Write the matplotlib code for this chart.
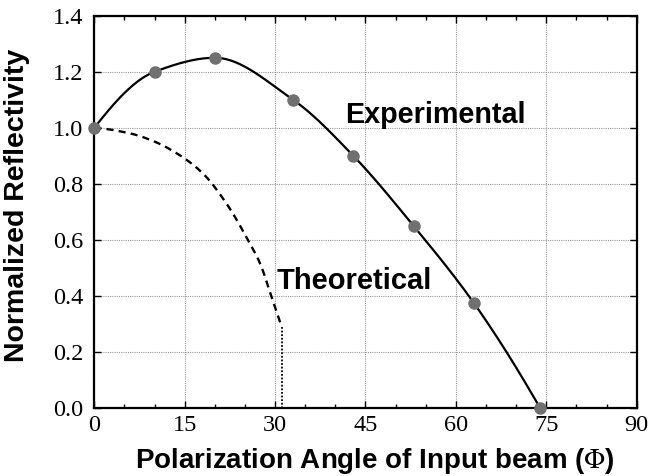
import numpy as np
import matplotlib
matplotlib.use("Agg")
import matplotlib.pyplot as plt

plt.rcParams["mathtext.fontset"] = "stix"

# Data
exp_angle = [0, 10, 20, 33, 43, 53, 63, 74]
exp_refl = [1.0, 1.2, 1.25, 1.1, 0.9, 0.65, 0.375, 0.0]

theo_angle = [0, 6, 10, 14, 18, 22, 25.5, 27.5, 29.4, 31.1]
theo_refl = [1.0, 0.98, 0.951, 0.905, 0.838, 0.728, 0.60, 0.517, 0.398, 0.29]
cutoff_angle = 31.1

x_ticks = [0, 15, 30, 45, 60, 75, 90]
y_ticks = [0.0, 0.2, 0.4, 0.6, 0.8, 1.0, 1.2, 1.4]


def pchip(x, y, n=400):
    x = np.asarray(x, float); y = np.asarray(y, float)
    h = np.diff(x); delta = np.diff(y) / h
    k = len(x); d = np.zeros(k)
    for i in range(1, k - 1):
        if delta[i - 1] * delta[i] > 0:
            w1 = 2 * h[i] + h[i - 1]; w2 = h[i] + 2 * h[i - 1]
            d[i] = (w1 + w2) / (w1 / delta[i - 1] + w2 / delta[i])
    def end(h0, h1, d0, d1):
        dd = ((2 * h0 + h1) * d0 - h0 * d1) / (h0 + h1)
        if np.sign(dd) != np.sign(d0):
            dd = 0
        elif np.sign(d0) != np.sign(d1) and abs(dd) > abs(3 * d0):
            dd = 3 * d0
        return dd
    d[0] = end(h[0], h[1], delta[0], delta[1])
    d[-1] = end(h[-1], h[-2], delta[-1], delta[-2])
    xs = np.linspace(x[0], x[-1], n)
    idx = np.clip(np.searchsorted(x, xs) - 1, 0, k - 2)
    t = (xs - x[idx]) / h[idx]
    h00 = 2 * t**3 - 3 * t**2 + 1; h10 = t**3 - 2 * t**2 + t
    h01 = -2 * t**3 + 3 * t**2; h11 = t**3 - t**2
    ys = h00 * y[idx] + h10 * h[idx] * d[idx] + h01 * y[idx + 1] + h11 * h[idx] * d[idx + 1]
    return xs, ys


fig = plt.figure(figsize=(6.49, 4.76), dpi=100)
ax = fig.add_axes([0.1453, 0.1422, 0.8357, 0.8248])

xs, ys = pchip(exp_angle, exp_refl)
ax.plot(xs, ys, color="black", lw=1.6, zorder=3)
ax.plot(exp_angle, exp_refl, "o", color="#707070", ms=8, zorder=4, clip_on=False)

tx, ty = pchip(theo_angle, theo_refl)
ax.plot(tx, ty, color="black", lw=1.7, ls=(0, (3, 2.2)), zorder=3)
ax.plot([cutoff_angle, cutoff_angle], [theo_refl[-1], 0], color="black", lw=1.3,
        ls=(0, (1, 1)), zorder=3)

ax.text(41.6, 1.016, "Experimental", fontsize=20.7, fontweight="bold",
        family="Liberation Sans", va="baseline", ha="left")
ax.text(30.2, 0.427, "Theoretical", fontsize=21, fontweight="bold",
        family="Liberation Sans", va="baseline", ha="left")

ax.set_xlim(0, 90)
ax.set_ylim(0, 1.4)
ax.set_xticks(x_ticks)
ax.set_yticks(y_ticks)
ax.set_xticklabels([str(v) for v in x_ticks], family="Liberation Serif", fontsize=17.5)
ax.set_yticklabels([f"{v:.1f}" for v in y_ticks], family="Liberation Serif", fontsize=17.5)
ax.set_xticks(np.arange(0, 91, 5), minor=True)
ax.tick_params(which="both", direction="in", top=True, right=True)
ax.tick_params(which="major", length=5, width=1)
ax.tick_params(which="minor", length=3, width=1)
ax.tick_params(axis="y", which="major", pad=8)
ax.tick_params(axis="x", which="major", pad=5)
ax.grid(True, which="major", color="#999999", ls=(0, (1, 1)), lw=0.8)
for s in ax.spines.values():
    s.set_linewidth(1.6)

ax.set_xlabel("Polarization Angle of Input beam ($\\Phi$)", fontsize=20, fontweight="bold",
              family="Liberation Sans")
ax.set_ylabel("Normalized Reflectivity", fontsize=20.5, fontweight="bold",
              family="Liberation Sans")
ax.xaxis.set_label_coords(0.5166, -0.096)
ax.yaxis.set_label_coords(-0.118, 0.518)

fig.savefig("out.png", dpi=100)
